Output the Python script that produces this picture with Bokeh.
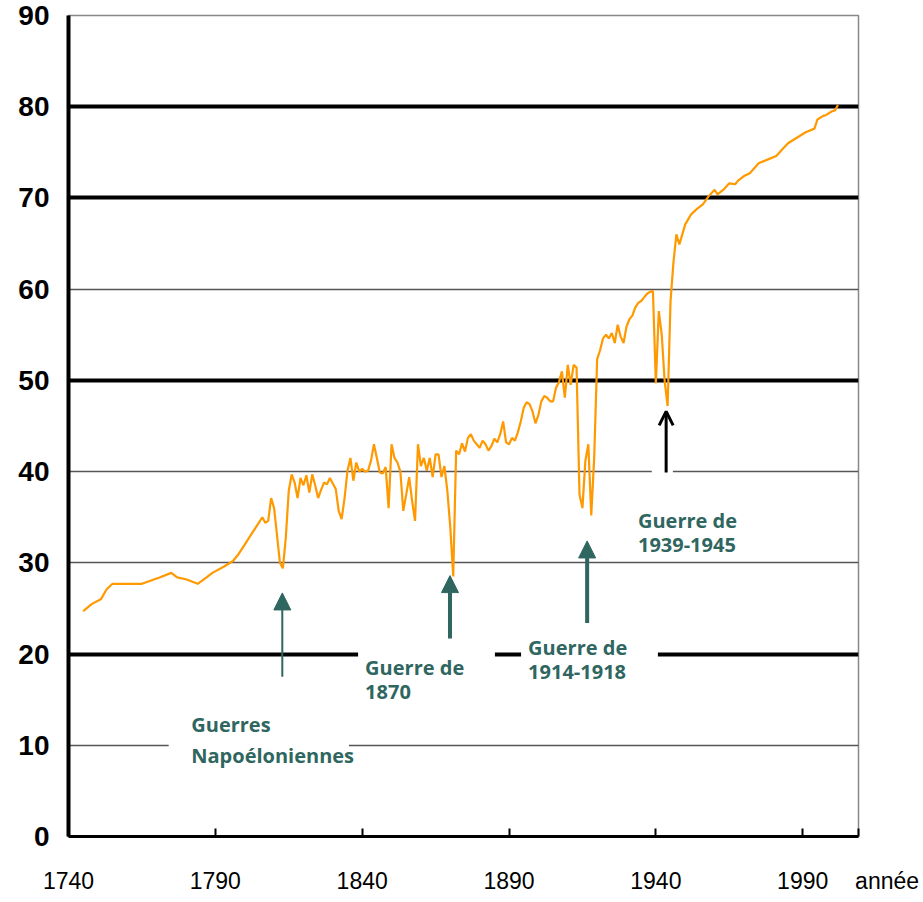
from bokeh.plotting import figure
from bokeh.models import (Range1d, FixedTicker, Grid, Arrow, NormalHead, OpenHead)
from bokeh.core.properties import value
from bokeh.embed import file_html
from bokeh.resources import INLINE

# ---------------- data ----------------
years = [1745, 1748, 1751, 1753, 1755, 1765, 1771, 1775, 1777, 1780, 1784, 1787, 1789,
         1793, 1796, 1798, 1800, 1802, 1804, 1806, 1807, 1808, 1809, 1810, 1811, 1812,
         1813, 1814, 1815, 1816, 1817, 1818, 1819, 1820, 1821, 1822, 1823, 1824, 1825,
         1826, 1827, 1828, 1829, 1830, 1831, 1832, 1833, 1834, 1835, 1836, 1837, 1838,
         1839, 1840, 1841, 1842, 1843, 1844, 1845, 1846, 1847, 1848, 1849, 1850, 1851,
         1852, 1853, 1854, 1855, 1856, 1857, 1858, 1859, 1860, 1861, 1862, 1863, 1864,
         1865, 1866, 1867, 1868, 1869, 1870, 1871, 1872, 1873, 1874, 1875, 1876, 1877,
         1878, 1879, 1880, 1881, 1882, 1883, 1884, 1885, 1886, 1887, 1888, 1889, 1890,
         1891, 1892, 1893, 1894, 1895, 1896, 1897, 1898, 1899, 1900, 1901, 1902, 1903,
         1904, 1905, 1906, 1907, 1908, 1909, 1910, 1911, 1912, 1913, 1914, 1915, 1916,
         1917, 1918, 1919, 1920, 1921, 1922, 1923, 1924, 1925, 1926, 1927, 1928, 1929,
         1930, 1931, 1932, 1933, 1934, 1935, 1936, 1937, 1938, 1939, 1940, 1941, 1942,
         1943, 1944, 1945, 1946, 1947, 1948, 1949, 1950, 1952, 1954, 1956, 1958, 1960,
         1961, 1963, 1965, 1967, 1968, 1970, 1972, 1975, 1978, 1981, 1983, 1985, 1988,
         1991, 1994, 1995, 1997, 1998, 2000, 2001, 2002]
life_expectancy = [24.7, 25.5, 26.0, 27.1, 27.7, 27.7, 28.4, 28.9, 28.4, 28.2, 27.7, 28.4, 28.9,
                   29.6, 30.2, 31.0, 32.0, 33.0, 34.0, 35.0, 34.4, 34.6, 37.1, 36.0, 33.0, 30.0,
                   29.4, 32.8, 37.9, 39.7, 38.8, 37.1, 39.3, 38.5, 39.6, 37.7, 39.7, 38.5, 37.1,
                   38.0, 38.8, 38.6, 39.3, 38.7, 38.1, 35.7, 34.8, 37.1, 40.1, 41.5, 39.0, 41.0,
                   40.0, 40.3, 40.0, 40.1, 41.2, 43.0, 41.5, 39.9, 39.8, 40.5, 36.0, 43.0, 41.5,
                   41.0, 40.0, 35.7, 37.5, 39.4, 36.8, 34.6, 43.0, 40.6, 41.5, 40.1, 41.5, 39.4,
                   41.9, 41.9, 39.4, 40.6, 37.9, 33.9, 28.5, 42.3, 41.9, 43.1, 42.2, 43.7, 44.1,
                   43.4, 43.0, 42.6, 43.4, 43.0, 42.3, 42.8, 43.6, 43.2, 44.1, 45.5, 43.2, 43.0,
                   43.7, 43.4, 44.3, 45.5, 47.0, 47.6, 47.4, 46.6, 45.3, 46.2, 47.7, 48.3, 48.1,
                   47.7, 47.7, 49.2, 49.8, 51.0, 48.1, 51.7, 49.5, 51.7, 51.4, 37.5, 36.0, 41.2,
                   43.0, 35.2, 41.5, 52.3, 53.3, 54.6, 55.0, 54.6, 55.2, 54.1, 56.1, 54.8, 54.1,
                   55.9, 56.7, 57.1, 58.0, 58.5, 58.7, 59.1, 59.5, 59.7, 59.8, 49.7, 57.6, 55.0,
                   49.9, 47.2, 58.7, 63.0, 66.0, 64.9, 66.0, 67.1, 68.2, 68.8, 69.3, 70.2, 70.9,
                   70.4, 70.9, 71.6, 71.5, 71.9, 72.4, 72.7, 73.8, 74.2, 74.6, 75.3, 76.0, 76.6,
                   77.2, 77.6, 78.6, 79.0, 79.1, 79.5, 79.6, 80.2]

x_ticks = [1740, 1790, 1840, 1890, 1940, 1990]
x_unit_label = "année"
y_ticks = [0, 10, 20, 30, 40, 50, 60, 70, 80, 90]
thick_levels = [20, 50, 70, 80]
thin_levels = [10, 30, 40, 60]
top_level = [90]

# war annotations
label_line1 = ["Guerres", "Guerre de", "Guerre de", "Guerre de"]
label_line2 = ["Napoéloniennes", "1870", "1914-1918", "1939-1945"]
label_years = [1781.8, 1841.0, 1896.5, 1933.9]
label_tops = [13.8, 20.0, 22.2, 36.1]

# white boxes behind the labels (interrupting the gridlines)
box_left = [1774.1, 1838.6, 1894.1, 1938.6]
box_right = [1835.5, 1885.2, 1940.7, 1945.8]
box_bottom = [7.0, 13.5, 15.0, 39.3]
box_top = [14.5, 21.0, 22.6, 40.7]

arrow_years = [1812.8, 1869.9, 1916.6]
arrow_tails = [17.5, 21.7, 23.4]
arrow_tips = [26.7, 28.6, 32.4]
arrow_widths = [2, 4, 4]
black_arrow_year = 1943.5
black_arrow_tail = 39.9
black_arrow_tip = 46.6

TEAL = "#2f6660"
ORANGE = "#ff9900"
SANS = "'Liberation Sans', Arial, sans-serif"
X_END = 2009

p = figure(width=920, height=898, output_backend="svg", toolbar_location=None,
           x_range=Range1d(1740, X_END), y_range=Range1d(0, 90),
           min_border_left=68, min_border_right=62, min_border_top=15, min_border_bottom=62)
p.title.visible = False
p.background_fill_color = "white"
p.border_fill_color = "white"
p.outline_line_color = "#888888"
p.outline_line_width = 1.5

p.xgrid.visible = False
p.ygrid.visible = False

for lv, col, w in [(thin_levels, "#555555", 1.5), (thick_levels, "black", 4), (top_level, "black", 3)]:
    g = Grid(dimension=1, ticker=FixedTicker(ticks=lv), grid_line_color=col, grid_line_width=w)
    p.add_layout(g)

# axes
unit_tick = X_END - 0.05
p.xaxis.ticker = FixedTicker(ticks=x_ticks + [unit_tick])
overrides = {t: str(t) for t in x_ticks}
overrides[unit_tick] = "\u00a0" * 9 + x_unit_label
p.xaxis.major_label_overrides = overrides
p.xaxis.axis_line_width = 3
p.xaxis.axis_line_color = "black"
p.xaxis.major_tick_in = 8
p.xaxis.major_tick_out = 0
p.xaxis.major_tick_line_width = 2
p.xaxis.minor_tick_line_color = None
p.xaxis.major_label_standoff = 31
p.xaxis.major_label_text_font = SANS
p.xaxis.major_label_text_font_size = "23px"
p.xaxis.major_label_text_color = "black"

p.yaxis.ticker = FixedTicker(ticks=y_ticks)
p.yaxis.axis_line_width = 4
p.yaxis.axis_line_color = "black"
p.yaxis.major_tick_in = 0
p.yaxis.major_tick_out = 0
p.yaxis.minor_tick_line_color = None
p.yaxis.major_label_standoff = 19
p.yaxis.major_label_text_font = SANS
p.yaxis.major_label_text_font_style = "bold"
p.yaxis.major_label_text_font_size = "28px"
p.yaxis.major_label_text_color = "black"

# white label boxes
p.quad(left=box_left, right=box_right, bottom=box_bottom, top=box_top,
       fill_color="white", line_color=None)

# life expectancy line
p.line(years, life_expectancy, line_color=ORANGE, line_width=2.2)

# arrows
for xa, t0, t1, w in zip(arrow_years, arrow_tails, arrow_tips, arrow_widths):
    p.add_layout(Arrow(end=NormalHead(size=17, fill_color=TEAL, line_color=TEAL),
                       x_start=xa, y_start=t0, x_end=xa, y_end=t1,
                       line_color=TEAL, line_width=w))
p.add_layout(Arrow(end=OpenHead(size=14, line_color="black", line_width=3),
                   x_start=black_arrow_year, y_start=black_arrow_tail,
                   x_end=black_arrow_year, y_end=black_arrow_tip,
                   line_color="black", line_width=3))

# labels
p.text(x=label_years, y=label_tops, text=label_line1, text_font=value("Open Sans"),
       text_font_style="bold", text_font_size="20px", text_color=TEAL,
       text_baseline="top", text_align="left")
p.text(x=label_years, y=label_tops, text=label_line2, text_font=value("Open Sans"),
       text_font_style="bold", text_font_size="20px", text_color=TEAL,
       text_baseline="top", text_align="left", y_offset=31)

open("out.html", "w").write(file_html(p, INLINE))
